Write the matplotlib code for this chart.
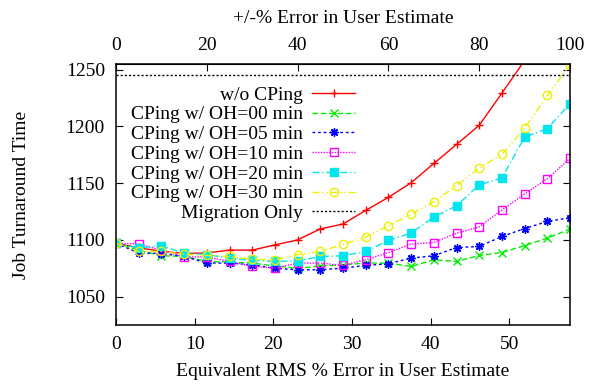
import matplotlib
matplotlib.use('Agg')

import matplotlib.pyplot as plt
import numpy as np

plt.rcParams['font.family'] = ['Liberation Serif', 'DejaVu Serif']

# +/- % error in user estimate (top axis); bottom axis is the RMS equivalent
PCT = [0, 5, 10, 15, 20, 25, 30, 35, 40, 45, 50,
       55, 60, 65, 70, 75, 80, 85, 90, 95, 100]

WO_CPING = [1097, 1093, 1090, 1088, 1088.5, 1091, 1091, 1095.6, 1100, 1109.7, 1114,
            1126, 1137.5, 1150.3, 1167.3, 1184, 1200.9, 1229.2, 1258, 1290, 1325]
OH_00 = [1097, 1091, 1086, 1085.5, 1081, 1080.5, 1079.6, 1077, 1075, 1077, 1078,
         1079.6, 1079.6, 1076.6, 1082.5, 1081, 1086.3, 1088.9, 1095, 1101.5, 1109.5]
OH_05 = [1097, 1088.5, 1088, 1085.5, 1079.6, 1079.6, 1078, 1075, 1073.7, 1073.7, 1075.2,
         1077.5, 1079, 1084, 1086, 1093.3, 1094.2, 1103, 1110, 1116.2, 1119.6]
OH_10 = [1097, 1096.5, 1091, 1085, 1085, 1081, 1076.6, 1075.2, 1079.6, 1079.6, 1077.5,
         1082.5, 1088.9, 1096.3, 1097.7, 1105.9, 1111.5, 1126.3, 1140.4, 1153.8, 1171.7]
OH_20 = [1097, 1093, 1094.8, 1088.4, 1087, 1084, 1082, 1081, 1081.6, 1085.4, 1086,
         1089.8, 1099.5, 1106, 1120.2, 1130, 1148.3, 1154.7, 1190.4, 1198, 1219.9]
OH_30 = [1097, 1089.8, 1089.8, 1087.5, 1086.3, 1085.4, 1083, 1082.5, 1086.9, 1089.8, 1096,
         1102.4, 1112.3, 1122.6, 1133.6, 1147.7, 1163.2, 1175.2, 1198.5, 1227.2, 1254]
MIGRATION_ONLY = [1245] * len(PCT)

SQ3 = np.sqrt(3.0)
FS = 14

SERIES = [
    ('w/o CPing',          WO_CPING, '#ff0000', '-',              '+',        {}),
    ('CPing w/ OH=00 min', OH_00,    '#00ee00', (0, (4, 2)),      'x',        {}),
    ('CPing w/ OH=05 min', OH_05,    '#0000ff', (0, (2, 2)),      (8, 2, 0),  {}),
    ('CPing w/ OH=10 min', OH_10,    '#ff00ff', (0, (1, 1)),      's',        {'markerfacecolor': 'none'}),
    ('CPing w/ OH=20 min', OH_20,    '#00e5ee', (0, (5, 2, 1, 2)), 's',       {}),
    ('CPing w/ OH=30 min', OH_30,    '#eeee00', (0, (5, 2, 1, 2, 1, 2)), 'o', {'markerfacecolor': 'none'}),
]


def main() -> None:
    fig = plt.figure(figsize=(5.95, 3.87), dpi=100)
    ax = fig.add_axes([0.195, 0.160, 0.763, 0.675])

    x = np.array(PCT) / SQ3

    for label, vals, color, ls, marker, extra in SERIES:
        ax.plot(x, vals, color=color, linestyle=ls, lw=1.0,
                marker=marker, markersize=6, markeredgewidth=1.0,
                label=label, **extra)

    ax.plot(x, MIGRATION_ONLY, color='black', linestyle=(0, (1.5, 1.5)), lw=1.0,
            label='Migration Only')

    ax.set_xlim(0, 100 / SQ3)
    ax.set_ylim(1025, 1255)
    ax.set_xticks([0, 10, 20, 30, 40, 50])
    ax.set_yticks([1050, 1100, 1150, 1200, 1250])
    ax.tick_params(direction='in', length=5, labelsize=FS, right=True,
                   top=False, pad=8)
    for sp in ax.spines.values():
        sp.set_linewidth(1.1)

    ax.set_xlabel('Equivalent RMS % Error in User Estimate', fontsize=FS)
    ax.set_ylabel('Job Turnaround Time', fontsize=FS)
    ax.xaxis.set_label_coords(0.5, -0.145)
    ax.yaxis.set_label_coords(-0.19, 0.5)

    top = ax.secondary_xaxis('top', functions=(lambda v: v * SQ3, lambda v: v / SQ3))
    top.set_xticks([0, 20, 40, 60, 80, 100])
    top.tick_params(direction='in', length=5, labelsize=FS, pad=7)
    top.set_xlabel('+/-% Error in User Estimate', fontsize=FS, labelpad=10)

    ax.legend(loc='upper right', bbox_to_anchor=(0.527, 0.915), markerfirst=False,
              frameon=False, fontsize=FS, handlelength=2.2, handletextpad=0.5,
              labelspacing=0.11, borderaxespad=0, borderpad=0)

    fig.savefig('out.png', dpi=100, facecolor='white')
    plt.close(fig)


if __name__ == '__main__':
    main()
